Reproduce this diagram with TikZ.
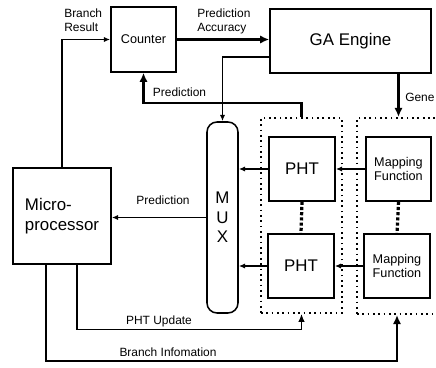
\documentclass[tikz,border=0pt]{standalone}
\usepackage{fontspec}
\setmainfont{Liberation Sans}
\usetikzlibrary{arrows.meta}

\tikzset{
  block/.style={draw, line width=1.1pt, inner sep=0pt, align=center},
  group/.style={draw, line width=1.4pt, dash pattern=on 1.2pt off 2.6pt, inner sep=0pt},
  link/.style={line width=0.9pt, -{Latex[length=1.6mm,width=1.3mm]}},
  wide/.style={line width=1.9pt, -{Latex[length=2.3mm,width=2.1mm]}},
  chain/.style={line width=2.3pt, dash pattern=on 2.2pt off 1.5pt},
  lbl/.style={font=\fontsize{8.5}{10}\selectfont, inner sep=0pt, align=left},
  small/.style={font=\fontsize{9}{10}\selectfont},
  large/.style={font=\fontsize{12}{14.5}\selectfont},
}

\begin{document}
\begin{tikzpicture}[x=0.25mm, y=-0.25mm]
        \useasboundingbox (0,0) rectangle (436,368);

        % blocks
        \node[block, small, minimum width=16.25mm, minimum height=16.25mm] (counter) at (143.5, 39.5) {Counter};
        \node[block, large, minimum width=40.25mm, minimum height=16mm] (ga) at (350.5, 41) {GA Engine};
        \node[block, large, align=left, minimum width=24.5mm, minimum height=24mm] (micro) at (62, 216) {Micro-\\processor};
        \node[block, large, rounded corners=2.5mm, minimum width=7.75mm, minimum height=47.75mm, font=\fontsize{12}{14}\selectfont] (mux) at (222.5, 217.5) {M\\U\\X};

        \node[block, large, minimum width=16.5mm, minimum height=16mm] (pht1) at (302, 169) {PHT};
        \node[block, large, minimum width=16.5mm, minimum height=16mm] (pht2) at (301, 266) {PHT};
        \node[block, small, minimum width=16.25mm, minimum height=16mm] (map1) at (398.5, 169) {Mapping\\Function};
        \node[block, small, minimum width=16.5mm, minimum height=16mm] (map2) at (397, 266) {Mapping\\Function};

        % dotted groups
        \node[group, minimum width=20.25mm, minimum height=48.75mm] (phtgrp) at (301.5, 215.5) {};
        \node[group, minimum width=22mm, minimum height=49mm] (mapgrp) at (401, 216) {};

        \draw[chain] (pht1.south) -- (pht2.north);
        \draw[chain] (map1.south) -- (map2.north);

        % table lookups
        \draw[link] (map1.west) -- (map1.west -| pht1.east);
        \draw[link] (map2.west) -- (map2.west -| pht2.east);
        \draw[link] (pht1.west) -- (pht1.west -| mux.east);
        \draw[link] (pht2.west) -- (pht2.west -| mux.east);
        \draw[link] (mux.west) -- (mux.west -| micro.east);

        % feedback to the counter and the GA engine
        \draw[link] (micro.north) |- (counter.west);
        \draw[wide] (counter.east) -- (counter.east -| ga.west);
        \draw[wide] (phtgrp.north) -- ++(0,-14) -| (counter.south);
        \draw[link] ([yshift=-4mm]ga.west) -| (mux.north);
        \draw[wide] (ga.south -| map1) -- (mapgrp.north -| map1);

        % updates from the processor
        \draw[link, line width=1pt, -{Latex[length=2mm,width=1.7mm]}] ([xshift=3.75mm]micro.south) -- ++(0,65) -| (phtgrp.south);
        \draw[wide, line width=1.3pt] ([xshift=-4mm]micro.south) -- ++(0,96) -| (mapgrp.south -| map2);

        % labels
        \node[lbl, anchor=west] (resultlbl) at (64, 20) {Branch\\Result};
        \node[lbl, anchor=west] (accuracylbl) at (197, 21) {Prediction\\Accuracy};
        \node[lbl] (predlbl) at (179.5, 92) {Prediction};
        \node[lbl, anchor=west] (genelbl) at (405, 97) {Gene};
        \node[lbl] (muxlbl) at (163, 200) {Prediction};
        \node[lbl] (updatelbl) at (159, 321) {PHT Update};
        \node[lbl] (infolbl) at (168, 352) {Branch Infomation};
    \end{tikzpicture}
\end{document}
